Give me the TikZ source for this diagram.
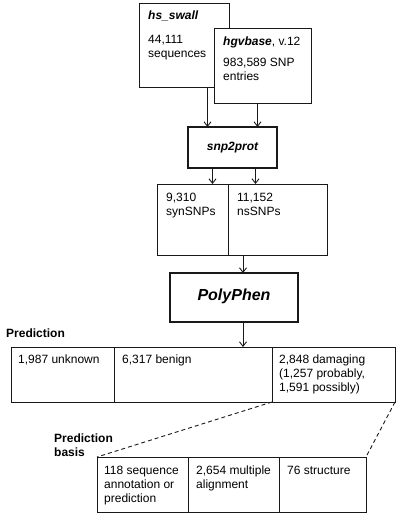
\documentclass[tikz,border=0pt]{standalone}
\usepackage{fontspec}
\setmainfont{Liberation Sans}
\usetikzlibrary{arrows.meta}
\newcommand{\mylines}[1]{\begin{tabular}[t]{@{}l@{}}#1\end{tabular}}
\begin{document}
\begin{tikzpicture}[x=1pt,y=-1pt,
  box/.style={draw=black!90,line width=0.9pt,fill=white,inner sep=0pt,outer sep=0pt,anchor=north west},
  thickbox/.style={box,line width=1.9pt},
  txt/.style={anchor=base west,inner sep=0pt,font=\fontsize{12}{14}\selectfont},
  arr/.style={draw=black!90,line width=0.9pt,-{Straight Barb[length=4.5pt,width=7pt]}},
  dsh/.style={draw=black!90,line width=0.9pt,dash pattern=on 4pt off 3pt}]
\useasboundingbox (0,0) rectangle (400,517);
% top boxes
\node[box,minimum width=90pt,minimum height=84pt] (hs) at (139,3) {};
\node[box,minimum width=97pt,minimum height=75pt] (hgv) at (214,28) {};
\node[txt] (hst) at (148,19.5) {\mylines{\textbf{\textit{hs\_swall}}\\[9.5pt]44,111\\sequences}};
\node[txt] (hgvt) at (223,45.5) {\mylines{\textbf{\textit{hgvbase}}, v.12\\[7pt]983,589 SNP\\entries}};
% snp2prot
\node[thickbox,minimum width=89pt,minimum height=41pt] (snp) at (188,127) {};
\node[inner sep=0pt,font=\fontsize{12}{14}\selectfont\bfseries\itshape] (snpt) at (snp.center) {snp2prot};
% syn / ns
\node[box,minimum width=71pt,minimum height=71pt] (syn) at (157,184) {};
\node[box,minimum width=99pt,minimum height=71pt] (ns) at (228,184) {};
\node[txt] (synt) at (166,201) {\mylines{9,310\\synSNPs}};
\node[txt] (nst) at (237,201) {\mylines{11,152\\nsSNPs}};
% PolyPhen
\node[thickbox,minimum width=128pt,minimum height=49pt] (poly) at (170,273) {};
\node[inner sep=0pt,font=\fontsize{16}{18}\selectfont\bfseries\itshape] (polyt) at ([yshift=1pt]poly.center) {PolyPhen};
% prediction
\node[txt,font=\fontsize{12}{14}\selectfont\bfseries] (predl) at (6,337) {Prediction};
\node[box,minimum width=103pt,minimum height=55pt] (unk) at (11,347) {};
\node[box,minimum width=158pt,minimum height=55pt] (ben) at (114,347) {};
\node[box,minimum width=123pt,minimum height=55pt] (dam) at (272,347) {};
\node[txt] (unkt) at (18,363) {1,987 unknown};
\node[txt] (bent) at (122,363) {6,317 benign};
\node[txt] (damt) at (279,363) {\mylines{2,848 damaging\\(1,257 probably,\\1,591 possibly)}};
% basis
\node[txt,font=\fontsize{12}{14}\selectfont\bfseries] (basl) at (54,442) {\mylines{Prediction\\basis}};
\node[box,minimum width=91pt,minimum height=55pt] (seq) at (97,457) {};
\node[box,minimum width=91pt,minimum height=55pt] (mul) at (188,457) {};
\node[box,minimum width=87pt,minimum height=55pt] (str) at (279,457) {};
\node[txt] (seqt) at (104,474) {\mylines{118 sequence\\annotation or\\prediction}};
\node[txt] (mult) at (196,474) {\mylines{2,654 multiple\\alignment}};
\node[txt] (strt) at (287,474) {76 structure};
% connectors
\draw[arr] ([xshift=-25pt]snp.north |- hs.south) -- ([xshift=-25pt]snp.north);
\draw[arr] ([xshift=25pt]snp.north |- hgv.south) -- ([xshift=25pt]snp.north);
\draw[arr] ([xshift=-20pt]snp.south) -- ([xshift=-20pt]snp.south |- syn.north);
\draw[arr] ([xshift=23pt]snp.south) -- ([xshift=23pt]snp.south |- ns.north);
\draw[arr] ([xshift=9pt]poly.north |- ns.south) -- ([xshift=9pt]poly.north);
\draw[arr] ([xshift=9pt]poly.south) -- ([xshift=9pt]poly.south |- ben.north);
\draw[dsh] (dam.south west) -- (seq.north west);
\draw[dsh] (dam.south east) -- (str.north east);
\end{tikzpicture}
\end{document}
